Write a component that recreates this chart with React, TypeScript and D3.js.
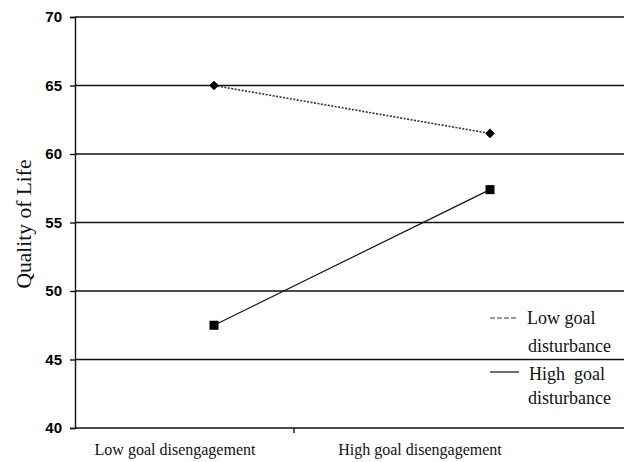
import { useEffect, useRef } from 'react'
import * as d3 from 'd3'

const categories = ['Low goal disengagement', 'High goal disengagement']
const lowDisturbance = [65, 61.5]
const highDisturbance = [47.5, 57.4]
const yTicks = [40, 45, 50, 55, 60, 65, 70]

export default function App() {
  const svgRef = useRef<SVGSVGElement>(null)

  useEffect(() => {
    if (!svgRef.current) return
    const svg = d3.select(svgRef.current)
    svg.selectAll('*').remove()

    const width = 624
    const margin = { top: 17, left: 75, bottom: 428 }
    const serif = '"Liberation Serif", "Times New Roman", serif'

    const yScale = d3.scaleLinear().domain([40, 70]).range([margin.bottom, margin.top])
    // point positions and label positions don't line up in the original (stretched Excel chart)
    const xPoint = d3.scalePoint<string>().domain(categories).range([214, 490])
    const xLabel = d3.scalePoint<string>().domain(categories).range([175, 420])

    // gridlines
    svg.append('g')
      .selectAll('line')
      .data(yTicks.filter(t => t > 40))
      .join('line')
      .attr('x1', margin.left)
      .attr('x2', width)
      .attr('y1', d => yScale(d))
      .attr('y2', d => yScale(d))
      .attr('stroke', '#111')
      .attr('stroke-width', 1.4)

    // y axis
    const yAxis = d3.axisLeft(yScale).tickValues(yTicks).tickSize(5).tickPadding(8)
    const yg = svg.append('g')
      .attr('transform', `translate(${margin.left},0)`)
      .call(yAxis)
    yg.select('.domain').attr('stroke', '#111').attr('stroke-width', 1.4)
    yg.selectAll('.tick line').attr('stroke', '#111').attr('stroke-width', 1.4)
    yg.selectAll('.tick text')
      .attr('fill', '#000')
      .style('font-family', '"Liberation Sans", Arial, sans-serif')
      .style('font-size', '15px')
      .style('font-weight', '600')

    // x axis
    svg.append('line')
      .attr('x1', margin.left).attr('x2', width)
      .attr('y1', yScale(40)).attr('y2', yScale(40))
      .attr('stroke', '#111').attr('stroke-width', 1.4)
    svg.append('line')
      .attr('x1', 294).attr('x2', 294)
      .attr('y1', yScale(40)).attr('y2', yScale(40) + 5)
      .attr('stroke', '#111').attr('stroke-width', 1.4)

    svg.append('g')
      .selectAll('text')
      .data(categories)
      .join('text')
      .attr('x', d => xLabel(d)!)
      .attr('y', 455)
      .attr('text-anchor', 'middle')
      .attr('fill', '#111')
      .style('font-family', serif)
      .style('font-size', '16px')
      .text(d => d)

    // y title
    svg.append('text')
      .attr('transform', 'rotate(-90)')
      .attr('x', -224)
      .attr('y', 31)
      .attr('text-anchor', 'middle')
      .attr('fill', '#111')
      .style('font-family', serif)
      .style('font-size', '21.5px')
      .text('Quality of Life')

    const line = d3.line<number>()
      .x((_, i) => xPoint(categories[i])!)
      .y(d => yScale(d))

    // low goal disturbance: dotted with diamonds
    svg.append('path')
      .datum(lowDisturbance)
      .attr('d', line)
      .attr('fill', 'none')
      .attr('stroke', '#333')
      .attr('stroke-width', 1.6)
      .attr('stroke-dasharray', '2,1.5')

    svg.append('g')
      .selectAll('path')
      .data(lowDisturbance)
      .join('path')
      .attr('transform', (d, i) => `translate(${xPoint(categories[i])},${yScale(d)})`)
      .attr('d', d3.symbol(d3.symbolDiamond2, 60)())
      .attr('fill', '#000')

    // high goal disturbance: solid with squares
    svg.append('path')
      .datum(highDisturbance)
      .attr('d', line)
      .attr('fill', 'none')
      .attr('stroke', '#111')
      .attr('stroke-width', 1.2)

    svg.append('g')
      .selectAll('rect')
      .data(highDisturbance)
      .join('rect')
      .attr('x', (d, i) => xPoint(categories[i])! - 4.5)
      .attr('y', d => yScale(d) - 4.5)
      .attr('width', 9)
      .attr('height', 9)
      .attr('fill', '#000')

    // legend
    const legend = svg.append('g')
    legend.append('line')
      .attr('x1', 490).attr('x2', 517).attr('y1', 318).attr('y2', 318)
      .attr('stroke', '#333').attr('stroke-width', 1.2).attr('stroke-dasharray', '5,2')
    legend.append('text').attr('x', 527).attr('y', 324).text('Low goal')
    legend.append('text').attr('x', 528).attr('y', 352).text('disturbance')
    legend.append('line')
      .attr('x1', 490).attr('x2', 519).attr('y1', 372).attr('y2', 372)
      .attr('stroke', '#111').attr('stroke-width', 1.2)
    legend.append('text').attr('x', 529).attr('y', 380).text('High  goal')
      .style('white-space', 'pre')
    legend.append('text').attr('x', 528).attr('y', 404).text('disturbance')
    legend.selectAll('text')
      .attr('fill', '#111')
      .style('font-family', serif)
      .style('font-size', '18px')
  }, [])

  return (
    <svg
      ref={svgRef}
      width={624}
      height={462}
      style={{ position: 'absolute', left: 0, top: 0, background: '#fff' }}
    />
  )
}
